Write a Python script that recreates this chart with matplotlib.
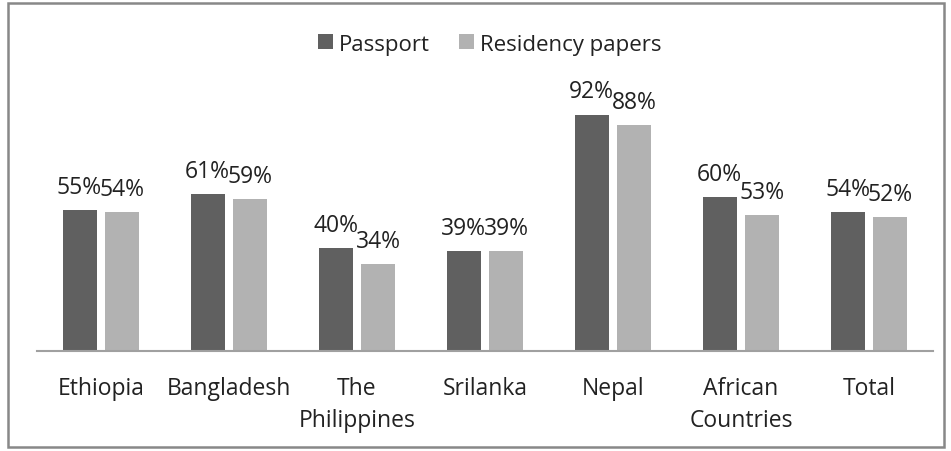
import matplotlib
matplotlib.use("Agg")
import matplotlib.pyplot as plt
import numpy as np
from matplotlib.patches import Rectangle

# Data
categories = ["Ethiopia", "Bangladesh", "The\nPhilippines", "Srilanka", "Nepal",
              "African\nCountries", "Total"]
passport = [55, 61, 40, 39, 92, 60, 54]
residency = [54, 59, 34, 39, 88, 53, 52]
series_names = ["Passport", "Residency papers"]

dark = "#606060"
light = "#b2b2b2"
txt = "#222222"

plt.rcParams['font.family'] = ['Open Sans', 'DejaVu Sans']

fig = plt.figure(figsize=(9.51, 4.52), dpi=100)
ax = fig.add_axes([37 / 951, 100 / 452, 896 / 951, 257 / 452])

x = np.arange(len(categories))
w = 0.265
gap = 0.035
b1 = ax.bar(x - w / 2 - gap, passport, w, color=dark, label=series_names[0])
b2 = ax.bar(x + w / 2 + gap, residency, w, color=light, label=series_names[1])

# value labels above bars
for bars, vals in [(b1, passport), (b2, residency)]:
    for r, v in zip(bars, vals):
        ax.annotate(f"{v}%", (r.get_x() + r.get_width() / 2, v),
                    xytext=(0, 8), textcoords="offset points",
                    ha="center", va="bottom", fontsize=16.5, color=txt)

ax.set_xlim(-0.5, len(categories) - 0.5)
ax.set_ylim(0, 100)
ax.set_xticks(x)
ax.set_xticklabels(categories, fontsize=16.5, color=txt, linespacing=1.45)
ax.tick_params(axis="x", length=0, pad=18)
ax.set_yticks([])
for s in ["top", "right", "left"]:
    ax.spines[s].set_visible(False)
ax.spines["bottom"].set_color("#a0a0a0")
ax.spines["bottom"].set_linewidth(1.5)

fig.legend(loc="center", bbox_to_anchor=(490 / 951, 1 - 45 / 452), ncol=2,
           frameon=False, fontsize=16, handlelength=0.65, handleheight=0.65,
           handletextpad=0.3, columnspacing=1.3, labelcolor=txt)

# outer chart border
fig.patches.append(Rectangle((8 / 951, 4 / 452), 936 / 951, 444 / 452,
                             transform=fig.transFigure, fill=False,
                             edgecolor="#888888", linewidth=1.8))

fig.savefig("out.png", dpi=100)
